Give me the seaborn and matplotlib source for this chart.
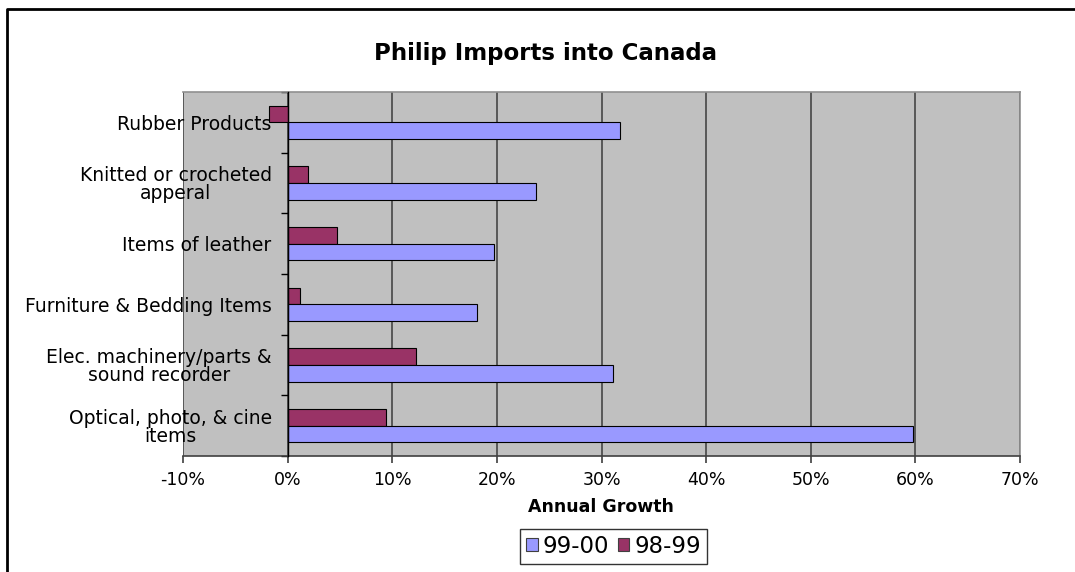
import matplotlib
matplotlib.use("Agg")
import matplotlib.pyplot as plt
from matplotlib.lines import Line2D
from matplotlib.patches import Patch
from matplotlib.ticker import FuncFormatter, FixedLocator
import seaborn as sns
import pandas as pd

categories = ["Rubber Products", "Knitted or crocheted\napperal", "Items of leather",
              "Furniture & Bedding Items", "Elec. machinery/parts &\nsound recorder",
              "Optical, photo, & cine\nitems"]
growth_99_00 = [31.8, 23.7, 19.7, 18.1, 31.1, 59.8]
growth_98_99 = [-1.8, 1.9, 4.7, 1.2, 12.3, 9.4]
periods = ["99-00", "98-99"]
colors = {"99-00": "#9999FF", "98-99": "#993366"}

rows = []
for c, a, b in zip(categories, growth_99_00, growth_98_99):
    rows.append({"category": c, "period": "98-99", "growth": b})
    rows.append({"category": c, "period": "99-00", "growth": a})
df = pd.DataFrame(rows)

plt.rcParams["font.family"] = ["DejaVu Sans"]

W, H = 1075, 572
fig = plt.figure(figsize=(W / 100, H / 100), dpi=100)
ax = fig.add_axes([183 / W, 1 - 456 / H, (1020 - 183) / W, (456 - 92) / H])
ax.set_facecolor("#C0C0C0")

sns.barplot(data=df, x="growth", y="category", hue="period", order=categories,
            hue_order=["98-99", "99-00"], palette=colors, saturation=1, orient="h",
            width=0.55, edgecolor="black", linewidth=0.8, ax=ax, legend=False, zorder=3)

ax.set_xlim(-10, 70)
ax.set_ylim(5.5, -0.5)
ax.set_xticks(range(-10, 71, 10))
ax.xaxis.set_major_formatter(FuncFormatter(lambda v, p: f"{v:.0f}%"))
ax.grid(axis="x", color="#505050", linewidth=1.3, zorder=1)
ax.grid(axis="y", visible=False)
ax.set_axisbelow(True)

for s in ["top", "right"]:
    ax.spines[s].set_color("#909090")
    ax.spines[s].set_linewidth(1.2)
ax.spines["bottom"].set_color("#404040")
ax.spines["bottom"].set_linewidth(1.2)
ax.spines["left"].set_position(("data", 0))
ax.spines["left"].set_color("black")
ax.spines["left"].set_linewidth(1.0)
ax.spines["left"].set_zorder(4)

ax.tick_params(axis="x", direction="out", length=5, width=1.2, color="#404040",
               labelsize=12.5, pad=6)
ax.tick_params(axis="y", which="major", length=0, labelsize=13.5, pad=11.5)
ax.yaxis.set_minor_locator(FixedLocator([i - 0.5 for i in range(7)]))
ax.tick_params(axis="y", which="minor", direction="out", length=5, width=1, color="black")
ax.set_xlabel("")
ax.set_ylabel("")
for t in ax.get_yticklabels():
    t.set_horizontalalignment("right")
    t.set_multialignment("center")
    t.set_linespacing(0.95)

fig.text(546 / W, 1 - 53.5 / H, "Philip Imports into Canada", ha="center", va="center",
         fontsize=16.5, fontweight="bold")
fig.text(601 / W, 1 - 507 / H, "Annual Growth", ha="center", va="center",
         fontsize=12.5, fontweight="bold")

handles = [Patch(facecolor=colors[p], edgecolor="#404040", linewidth=0.8) for p in periods]
leg = fig.legend(handles, periods, loc="center", bbox_to_anchor=(613.5 / W, 1 - 546.5 / H),
                 ncol=2, frameon=True, fancybox=False, edgecolor="black", fontsize=16.5,
                 handlelength=0.5, handleheight=0.5, handletextpad=0.2,
                 columnspacing=0.4, borderpad=0.28, borderaxespad=0)
leg.get_frame().set_linewidth(1.0)

fig.add_artist(Line2D([7 / W, 7 / W, 1.0], [0, 1 - 9 / H, 1 - 9 / H],
                      transform=fig.transFigure, color="black", linewidth=2))

fig.savefig("out.png", dpi=100)
